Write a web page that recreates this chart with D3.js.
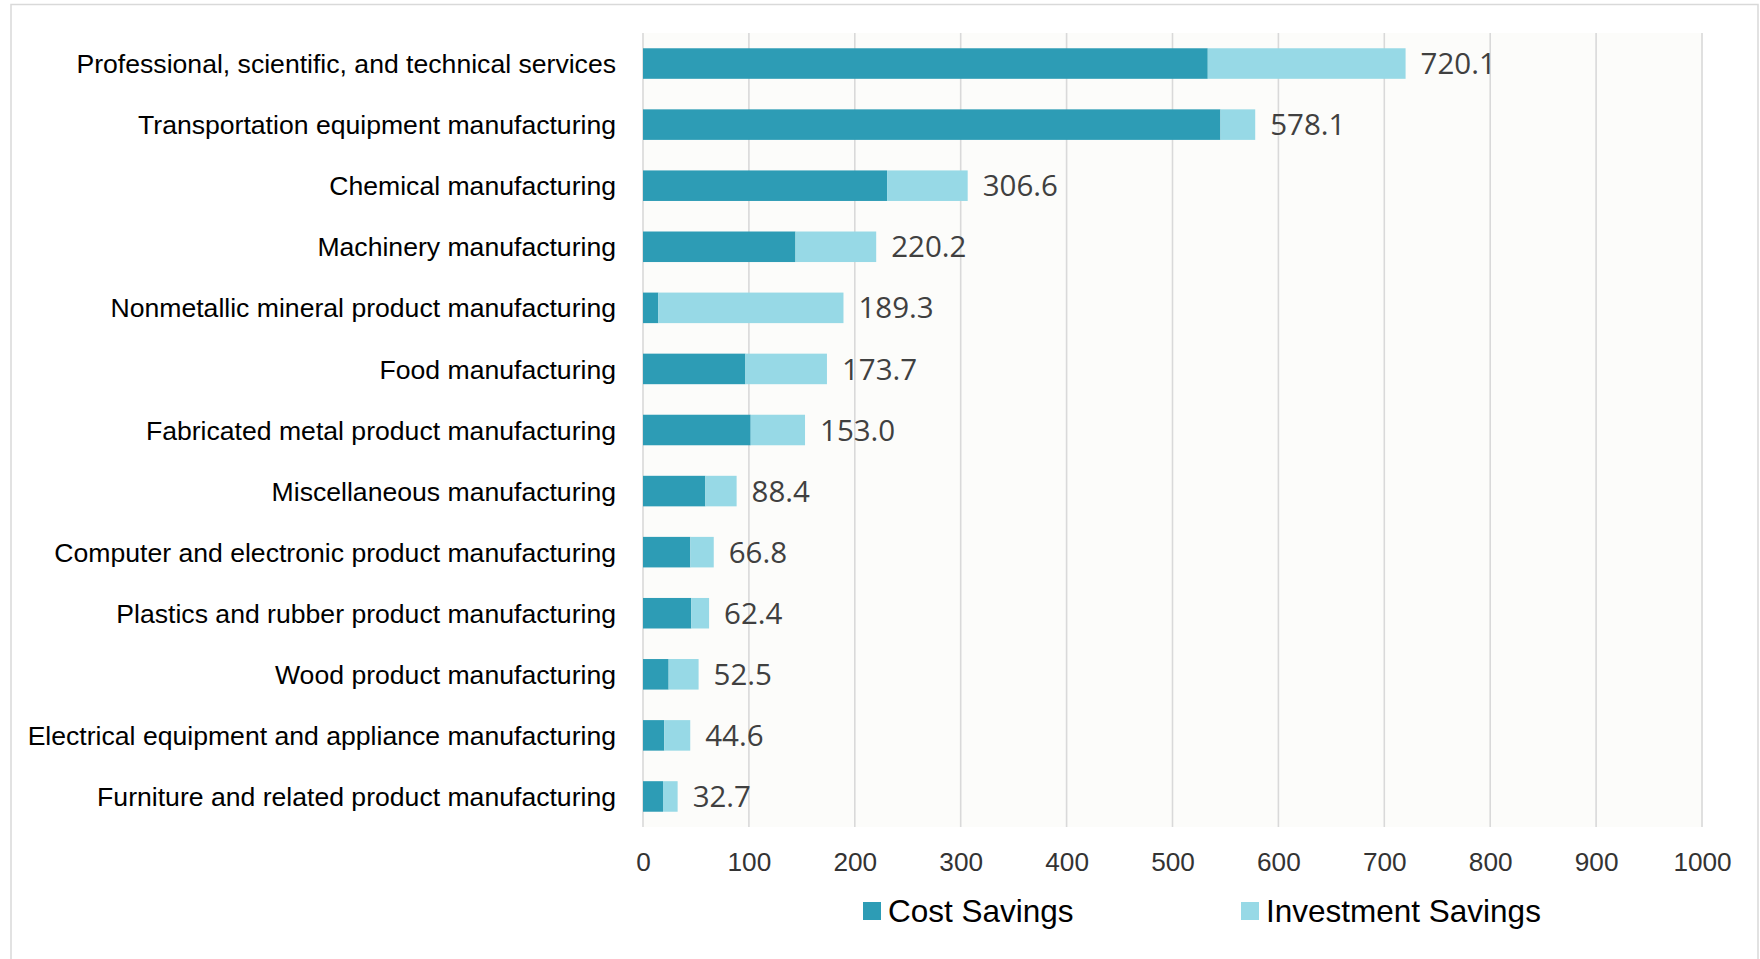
<!DOCTYPE html>
<html>
<head>
<meta charset="utf-8">
<script src="https://cdn.jsdelivr.net/npm/d3@7"></script>
<style>
  html, body { margin: 0; padding: 0; background: #ffffff; }
  svg { display: block; }
</style>
</head>
<body>
<svg id="chart" width="1760" height="959"></svg>
<script>
// Industry sectors, top to bottom
const categories = [
  "Professional, scientific, and technical services",
  "Transportation equipment manufacturing",
  "Chemical manufacturing",
  "Machinery manufacturing",
  "Nonmetallic mineral product manufacturing",
  "Food manufacturing",
  "Fabricated metal product manufacturing",
  "Miscellaneous manufacturing",
  "Computer and electronic product manufacturing",
  "Plastics and rubber product manufacturing",
  "Wood product manufacturing",
  "Electrical equipment and appliance manufacturing",
  "Furniture and related product manufacturing"
];

const costSavings       = [533.3, 545.3, 230.5, 144.0, 14.5, 96.7, 101.7, 58.9, 44.7, 45.6, 24.2, 20.1, 18.9];
const investmentSavings = [186.8,  32.8,  76.1,  76.2, 174.8, 77.0, 51.3, 29.5, 22.1, 16.8, 28.3, 24.5, 13.8];

const xTicks = [0, 100, 200, 300, 400, 500, 600, 700, 800, 900, 1000];
const seriesNames = ["Cost Savings", "Investment Savings"];
const seriesColors = ["#2d9cb5", "#97d9e6"];

const svg = d3.select("#chart");

// outer chart frame
svg.append("rect")
  .attr("x", 11).attr("y", 4.5)
  .attr("width", 1747).attr("height", 970)
  .attr("fill", "#ffffff")
  .attr("stroke", "#d9d9d9")
  .attr("stroke-width", 1.5);

const plot = { left: 643, right: 1702, top: 33, bottom: 827 };

const x = d3.scaleLinear().domain([0, 1000]).range([plot.left, plot.right]);
const y = d3.scaleBand().domain(categories)
  .range([plot.top, plot.bottom])
  .paddingInner(0.5).paddingOuter(0.25);

// plot background
svg.append("rect")
  .attr("x", plot.left).attr("y", plot.top)
  .attr("width", plot.right - plot.left).attr("height", plot.bottom - plot.top)
  .attr("fill", "#fcfcfa");

// vertical gridlines
svg.append("g").selectAll("line")
  .data(xTicks).join("line")
  .attr("x1", d => x(d)).attr("x2", d => x(d))
  .attr("y1", plot.top).attr("y2", plot.bottom)
  .attr("stroke", "#d9d9d9")
  .attr("stroke-width", 1.6);

// stacked bars
const rows = categories.map((c, i) => ({
  cat: c, cost: costSavings[i], inv: investmentSavings[i], total: costSavings[i] + investmentSavings[i]
}));

const bars = svg.append("g");
bars.selectAll("rect.cost")
  .data(rows).join("rect")
  .attr("class", "cost")
  .attr("x", x(0))
  .attr("y", d => y(d.cat))
  .attr("width", d => x(d.cost) - x(0))
  .attr("height", y.bandwidth())
  .attr("fill", seriesColors[0]);

bars.selectAll("rect.inv")
  .data(rows).join("rect")
  .attr("class", "inv")
  .attr("x", d => x(d.cost))
  .attr("y", d => y(d.cat))
  .attr("width", d => x(d.total) - x(d.cost))
  .attr("height", y.bandwidth())
  .attr("fill", seriesColors[1]);

// total value labels
svg.append("g").selectAll("text")
  .data(rows).join("text")
  .attr("x", d => x(d.total) + 15)
  .attr("y", d => y(d.cat) + y.bandwidth() / 2)
  .attr("dy", "0.36em")
  .attr("font-family", "'Open Sans', sans-serif")
  .attr("font-size", 29.5)
  .attr("fill", "#404040")
  .text(d => d.total.toFixed(1));

// category axis
const yAxis = svg.append("g")
  .attr("transform", `translate(${plot.left},0)`)
  .call(d3.axisLeft(y).tickSize(0).tickPadding(27));
yAxis.select(".domain").remove();
yAxis.selectAll("text")
  .attr("font-family", "'Liberation Sans', Arial, sans-serif")
  .attr("font-size", 26.6)
  .attr("dy", "0.36em")
  .attr("fill", "#000000");

// value axis labels
const xAxis = svg.append("g")
  .attr("transform", `translate(0,${plot.bottom})`)
  .call(d3.axisBottom(x).tickValues(xTicks).tickSize(0).tickPadding(25).tickFormat(d3.format("d")));
xAxis.select(".domain").remove();
xAxis.selectAll("text")
  .attr("font-family", "'Liberation Sans', Arial, sans-serif")
  .attr("font-size", 26.2)
  .attr("fill", "#333333");

// legend
const legendX = [863, 1241];
const legend = svg.append("g");
seriesNames.forEach((name, i) => {
  legend.append("rect")
    .attr("x", legendX[i]).attr("y", 902)
    .attr("width", 18).attr("height", 18)
    .attr("fill", seriesColors[i]);
  legend.append("text")
    .attr("x", legendX[i] + 25).attr("y", 922)
    .attr("font-family", "'Liberation Sans', Arial, sans-serif")
    .attr("font-size", 31.5)
    .attr("fill", "#000000")
    .text(name);
});
</script>
</body>
</html>
